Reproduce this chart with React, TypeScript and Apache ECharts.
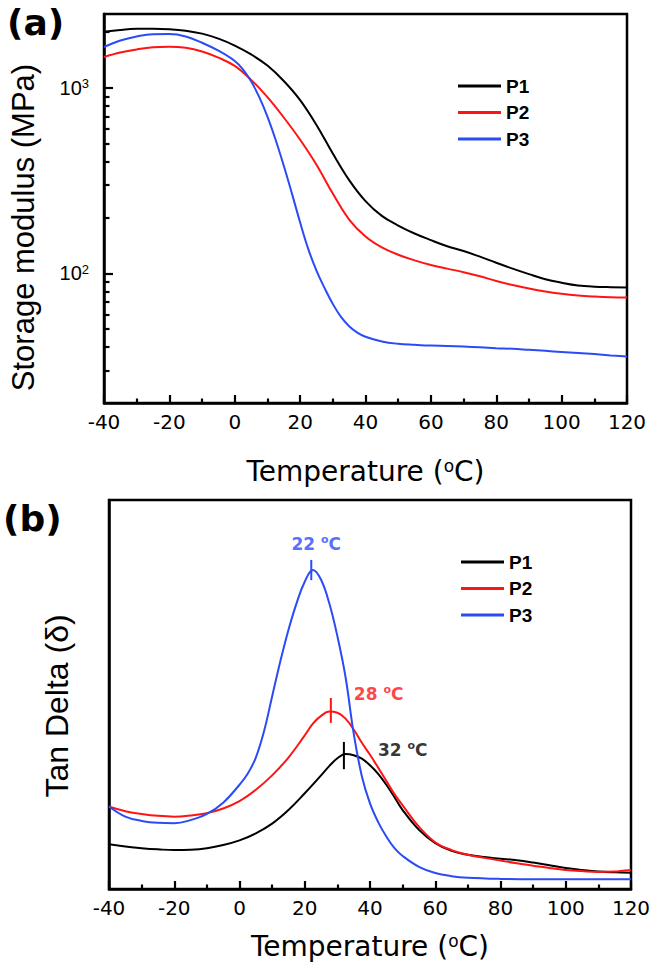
import React, { useEffect, useRef } from "react";
import * as echarts from "echarts";

// ---------- (a) storage modulus (MPa) ----------
const p1TempA = [-40, -35, -30, -25, -20, -15, -10, -5, 0, 5, 10, 15, 20, 25, 30, 35, 40, 45, 50, 55, 60, 65, 70, 75, 80, 85, 90, 95, 100, 105, 110, 115, 120];
const p1Storage = [2004, 2051, 2080, 2084, 2070, 2032, 1959, 1841, 1690, 1514, 1318, 1089, 859, 631, 442, 318, 245, 204, 181, 164, 151, 140, 132, 123, 114, 106, 99, 93, 89, 86, 84.7, 84.2, 84];

const p2TempA = [-40, -35, -30, -25, -20, -15, -10, -5, 0, 5, 10, 15, 20, 25, 30, 35, 40, 45, 50, 55, 60, 65, 70, 75, 80, 85, 90, 95, 100, 105, 110, 115, 120];
const p2Storage = [1466, 1549, 1611, 1656, 1667, 1644, 1570, 1455, 1312, 1104, 891, 692, 525, 385, 269, 195, 158, 138, 126, 117.5, 111, 106, 101.4, 96.4, 91, 86.5, 82.8, 79.8, 77.6, 76, 75, 74.3, 74];

const p3TempA = [-40, -35, -30, -25, -20, -15, -10, -5, 0, 2.5, 5, 7.5, 10, 12.5, 15, 17.5, 20, 22.5, 25, 27.5, 30, 32.5, 35, 37.5, 40, 45, 50, 55, 60, 65, 70, 75, 80, 85, 90, 95, 100, 105, 110, 115, 120];
const p3Storage = [1660, 1799, 1892, 1945, 1950, 1892, 1750, 1585, 1396, 1259, 1084, 891, 700, 525, 380, 269, 188, 135, 103.5, 83.2, 68.4, 58.2, 51.9, 47.9, 45.5, 42.9, 41.7, 41.2, 40.8, 40.6, 40.3, 39.9, 39.5, 39.2, 38.7, 38.2, 37.7, 37.2, 36.7, 36.1, 35.6];

const storageMin = 20;
const storageMax = 2500;
const storageMajorTicks = [100, 1000];
const storageMinorTicks = [30, 40, 50, 60, 70, 80, 90, 200, 300, 400, 500, 600, 700, 800, 900, 2000];

// ---------- (b) tan delta ----------
const p1TempB = [-40, -35, -30, -25, -20, -15, -10, -5, 0, 5, 10, 15, 20, 25, 27.5, 30, 32.5, 35, 37.5, 40, 42.5, 45, 47.5, 50, 55, 60, 65, 70, 75, 80, 85, 90, 95, 100, 105, 110, 115, 120];
const p1Tan = [0.115, 0.109, 0.105, 0.102, 0.1, 0.101, 0.105, 0.113, 0.125, 0.143, 0.168, 0.203, 0.246, 0.292, 0.316, 0.336, 0.347, 0.344, 0.335, 0.318, 0.296, 0.268, 0.236, 0.203, 0.152, 0.118, 0.098, 0.088, 0.082, 0.078, 0.074, 0.068, 0.061, 0.054, 0.049, 0.045, 0.043, 0.042];

const p2TempB = [-40, -35, -30, -25, -20, -15, -10, -5, 0, 5, 10, 15, 20, 22.5, 25, 27.5, 30, 32.5, 35, 37.5, 40, 42.5, 45, 47.5, 50, 55, 60, 65, 70, 75, 80, 85, 90, 95, 100, 105, 110, 115, 120];
const p2Tan = [0.212, 0.2, 0.193, 0.188, 0.186, 0.189, 0.195, 0.207, 0.226, 0.255, 0.292, 0.338, 0.395, 0.425, 0.445, 0.456, 0.453, 0.438, 0.41, 0.376, 0.345, 0.312, 0.278, 0.244, 0.215, 0.16, 0.12, 0.1, 0.088, 0.08, 0.073, 0.066, 0.06, 0.054, 0.049, 0.046, 0.044, 0.045, 0.049];

const p3TempB = [-40, -35, -30, -25, -20, -15, -10, -5, 0, 2.5, 5, 7.5, 10, 12.5, 15, 17.5, 20, 22.5, 25, 27.5, 30, 32.5, 35, 37.5, 40, 42.5, 45, 47.5, 50, 55, 60, 65, 70, 80, 90, 100, 110, 120];
const p3Tan = [0.212, 0.186, 0.175, 0.17, 0.169, 0.177, 0.193, 0.222, 0.268, 0.296, 0.338, 0.405, 0.495, 0.585, 0.666, 0.735, 0.79, 0.82, 0.795, 0.735, 0.65, 0.545, 0.4, 0.29, 0.22, 0.172, 0.135, 0.105, 0.085, 0.057, 0.041, 0.033, 0.029, 0.026, 0.025, 0.025, 0.025, 0.025];

// peak markers
const peakTemps = [22, 28, 32];
const peakTickLow = [0.794, 0.427, 0.308];
const peakTickHigh = [0.846, 0.491, 0.378];
const peakLabels = ["22", "28", "32"];

const seriesNames = ["P1", "P2", "P3"];
const colors = ["#000000", "#ff1414", "#2a4bf5"];

const xTickMin = -40;
const xTickMax = 120;
const xTickStep = 20;

const BLACK = "#000";

export default function App() {
  const ref = useRef<HTMLDivElement>(null);

  useEffect(() => {
    if (!ref.current) return;
    const chart = echarts.init(ref.current, undefined, { renderer: "svg" });

    const tempsA = [p1TempA, p2TempA, p3TempA];
    const storA = [p1Storage, p2Storage, p3Storage];
    const tempsB = [p1TempB, p2TempB, p3TempB];
    const tanB = [p1Tan, p2Tan, p3Tan];

    const xAxisCommon = (gridIndex: number, nameGap: number) => ({
      gridIndex,
      type: "value",
      min: xTickMin,
      max: xTickMax,
      interval: xTickStep,
      name: "Temperature ({s|o}C)",
      nameLocation: "middle",
      nameGap,
      nameTextStyle: {
        fontFamily: "DejaVu Sans",
        fontSize: 28,
        color: BLACK,
        rich: {
          s: { fontFamily: "DejaVu Sans", fontSize: 17, color: BLACK, verticalAlign: "top", lineHeight: 17 },
        },
      },
      axisLine: { show: true, onZero: false, lineStyle: { color: BLACK, width: 2.5 } },
      axisTick: { show: true, inside: true, length: 8, lineStyle: { color: BLACK, width: 2.2 } },
      minorTick: { show: true, splitNumber: 2, length: 4.5, lineStyle: { color: BLACK, width: 2.2 } },
      splitLine: { show: false },
      minorSplitLine: { show: false },
      axisLabel: { margin: 9, fontFamily: "DejaVu Sans", fontSize: 20, color: BLACK },
    });

    const series: any[] = [];
    for (let i = 0; i < 3; i++) {
      series.push({
        name: seriesNames[i],
        type: "line",
        xAxisIndex: 0,
        yAxisIndex: 0,
        data: tempsA[i].map((t, k) => [t, Math.log10(storA[i][k])]),
        color: colors[i],
        showSymbol: false,
        symbol: "none",
        smooth: 0.4,
        lineStyle: { width: 2, color: colors[i] },
        z: 3 + i,
      });
    }
    for (let i = 0; i < 3; i++) {
      series.push({
        name: seriesNames[i],
        type: "line",
        xAxisIndex: 1,
        yAxisIndex: 2,
        data: tempsB[i].map((t, k) => [t, tanB[i][k]]),
        color: colors[i],
        showSymbol: false,
        symbol: "none",
        smooth: 0.4,
        lineStyle: { width: 2, color: colors[i] },
        z: 3 + i,
      });
    }
    // peak markers: index 0 -> P3 (blue), 1 -> P2 (red), 2 -> P1 (black)
    const markerColor = [colors[2], colors[1], colors[0]];
    const labelPlacement: any[] = [
      { position: "top", distance: 6, offset: [5, 0] },
      { position: "right", distance: 23, offset: [0, -4] },
      { position: "right", distance: 34, offset: [0, 8] },
    ];
    for (let i = 0; i < peakTemps.length; i++) {
      series.push({
        name: "marker" + i,
        type: "line",
        xAxisIndex: 1,
        yAxisIndex: 2,
        data: [
          [peakTemps[i], peakTickLow[i]],
          [peakTemps[i], peakTickHigh[i]],
        ],
        symbol: "none",
        lineStyle: { width: 2, color: markerColor[i] },
        color: markerColor[i],
        silent: true,
        z: 8,
      });
      series.push({
        name: "label" + i,
        type: "scatter",
        xAxisIndex: 1,
        yAxisIndex: 2,
        data: [[peakTemps[i], peakTickHigh[i]]],
        symbolSize: 0,
        silent: true,
        z: 9,
        label: {
          show: true,
          ...labelPlacement[i],
          formatter: `{n|${peakLabels[i]} }{s|o}{n|C}`,
          rich: {
            n: { fontFamily: "DejaVu Sans", fontWeight: "bold", fontSize: 17, color: markerColor[i], lineHeight: 20 },
            s: { fontFamily: "DejaVu Sans", fontWeight: "bold", fontSize: 11, color: markerColor[i], verticalAlign: "top", lineHeight: 11 },
          },
        },
      });
    }

    const legendCommon = (left: number, top: number) => ({
      data: seriesNames,
      left,
      top,
      orient: "vertical",
      icon: "rect",
      itemWidth: 43,
      itemHeight: 3,
      itemGap: 6.5,
      padding: 0,
      selectedMode: false,
      textStyle: { fontFamily: "Liberation Sans", fontWeight: "bold", fontSize: 19, color: BLACK, lineHeight: 20 },
    });

    const option: any = {
      animation: false,
      backgroundColor: "#ffffff",
      textStyle: { fontFamily: "Liberation Sans" },
      grid: [
        { left: 104, top: 14, width: 523, height: 389, show: true, borderColor: BLACK, borderWidth: 2.5, backgroundColor: "transparent", containLabel: false, outerBoundsMode: "none" },
        { left: 109, top: 500, width: 522, height: 389, show: true, borderColor: BLACK, borderWidth: 2.5, backgroundColor: "transparent", containLabel: false, outerBoundsMode: "none" },
      ],
      xAxis: [xAxisCommon(0, 54), xAxisCommon(1, 43)],
      yAxis: [
        {
          gridIndex: 0,
          type: "value",
          min: Math.log10(storageMin),
          max: Math.log10(storageMax),
          name: "Storage modulus (MPa)",
          nameLocation: "middle",
          nameGap: 65,
          nameTextStyle: { fontFamily: "Liberation Sans", fontSize: 31, color: BLACK, padding: [0, 38, 0, 0] },
          axisLine: { show: true, onZero: false, lineStyle: { color: BLACK, width: 2.5 } },
          axisTick: {
            show: true,
            inside: true,
            length: 9,
            customValues: storageMajorTicks.map((v) => Math.log10(v)),
            lineStyle: { color: BLACK, width: 2.2 },
          },
          axisLabel: {
            show: true,
            margin: 15,
            customValues: storageMajorTicks.map((v) => Math.log10(v)),
            formatter: (v: number) => `{b|10}{s|${Math.round(v)}}`,
            rich: {
              b: { fontFamily: "Liberation Sans", fontSize: 20, color: BLACK, lineHeight: 21 },
              s: { fontFamily: "Liberation Sans", fontSize: 13, color: BLACK, verticalAlign: "top", lineHeight: 13 },
            },
          },
          splitLine: { show: false },
        },
        {
          gridIndex: 0,
          type: "value",
          position: "left",
          offset: 0,
          min: Math.log10(storageMin),
          max: Math.log10(storageMax),
          axisLine: { show: false, onZero: false },
          axisTick: {
            show: true,
            inside: true,
            length: 5.5,
            customValues: storageMinorTicks.map((v) => Math.log10(v)),
            lineStyle: { color: BLACK, width: 2.2 },
          },
          axisLabel: { show: false },
          splitLine: { show: false },
        },
        {
          gridIndex: 1,
          type: "value",
          min: 0,
          max: 1,
          name: "Tan Delta (δ)",
          nameLocation: "middle",
          nameGap: 36,
          nameTextStyle: { fontFamily: "Liberation Sans", fontSize: 32, color: BLACK, padding: [0, 23, 0, 0] },
          axisLine: { show: true, onZero: false, lineStyle: { color: BLACK, width: 2.5 } },
          axisTick: { show: false },
          axisLabel: { show: false },
          splitLine: { show: false },
        },
      ],
      legend: [legendCommon(458, 76), legendCommon(461, 552)],
      graphic: [
        { type: "text", left: 7, top: 4, style: { text: "(a)", font: 'bold 36px "DejaVu Sans"', fill: BLACK } },
        { type: "text", left: 3, top: 500, style: { text: "(b)", font: 'bold 36px "DejaVu Sans"', fill: BLACK } },
      ],
      series,
    };

    chart.setOption(option);
    return () => chart.dispose();
  }, []);

  return (
    <div
      ref={ref}
      style={{ position: "fixed", left: 0, top: 0, width: 655, height: 966, background: "#fff" }}
    />
  );
}
